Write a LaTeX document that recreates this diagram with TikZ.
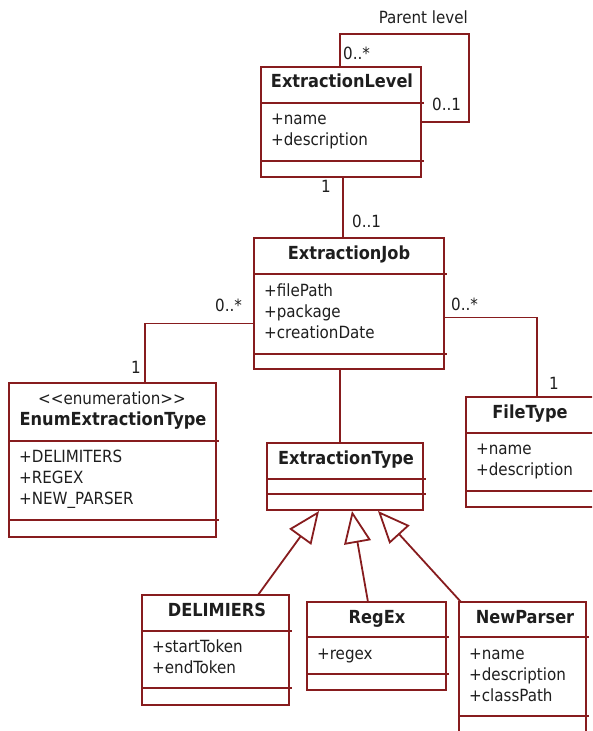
\documentclass[tikz,border=0pt]{standalone}
\usepackage{fontspec}
\setmainfont{DejaVu Sans Condensed}
\usetikzlibrary{arrows.meta}
\definecolor{umlred}{RGB}{135,28,30}
\definecolor{txt}{RGB}{30,30,30}
\tikzset{
  box/.style={draw=umlred, line width=1.8pt, rectangle, inner sep=0pt, outer sep=0pt, anchor=north west},
  divl/.style={draw=umlred, line width=1.8pt},
  conn/.style={draw=umlred, line width=1.8pt},
  gen/.style={draw=umlred, line width=1.8pt, -{Triangle[length=32pt,width=27pt,fill=white]}},
  ttl/.style={font=\bfseries\fontsize{18}{18}\selectfont, text=txt, anchor=base, inner sep=0pt},
  att/.style={font=\fontsize{16.8}{20}\selectfont, text=txt, anchor=base west, inner sep=0pt},
  lbl/.style={font=\fontsize{16.8}{20}\selectfont, text=txt, anchor=base west, inner sep=0pt},
}
\newcommand\umlbox[7]{%
  \node[box, minimum width={#4-#2}, minimum height={#5-#3}] (#1) at (#2,#3) {};
  \draw[divl] (#2,#6) -- ({#4+3},#6);
  \draw[divl] (#2,#7) -- ({#4+3},#7);
}
\begin{document}
\begin{tikzpicture}[x=1pt,y=-1pt]
\useasboundingbox (0,0) rectangle (592,731);
\clip (0,0) rectangle (592,731);
% boxes
\umlbox{el}{261}{67}{421}{177}{103}{161}
\umlbox{ej}{254}{238}{444}{369}{274}{354}
\umlbox{en}{9}{383}{216}{537}{441}{520}
\umlbox{ft}{466}{397}{594}{507}{433}{491}
\umlbox{et}{267}{443}{423}{510}{479}{494}
\umlbox{de}{142}{595}{289}{705}{631}{688}
\umlbox{rx}{307}{602}{446}{690}{637}{674}
\umlbox{np}{459}{602}{586}{745}{637}{716}
% titles
\node[ttl] (elT) at (342,87) {ExtractionLevel};
\node[ttl] (ejT) at (349,259) {ExtractionJob};
\node[font=\fontsize{16.8}{20}\selectfont, text=txt, anchor=base, inner sep=0pt] (enS) at (112,404) {<{}<enumeration>{}>};
\node[ttl] (enT) at (113,425) {EnumExtractionType};
\node[ttl] (ftT) at (530,418) {FileType};
\node[ttl] (etT) at (346,464) {ExtractionType};
\node[ttl] (deT) at (217,616) {DELIMIERS};
\node[ttl] (rxT) at (377,623) {RegEx};
\node[ttl] (npT) at (525,623) {NewParser};
% attributes
\node[att] (elA1) at (271,124) {+name};
\node[att] (elA2) at (271,145) {+description};
\node[att] (ejA1) at (264,296) {+filePath};
\node[att] (ejA2) at (264,317) {+package};
\node[att] (ejA3) at (264,338) {+creationDate};
\node[att] (enA1) at (19,462) {+DELIMITERS};
\node[att] (enA2) at (19,483) {+REGEX};
\node[att] (enA3) at (19,504) {+NEW\_PARSER};
\node[att] (ftA1) at (476,454) {+name};
\node[att] (ftA2) at (476,475) {+description};
\node[att] (deA1) at (152,652) {+startToken};
\node[att] (deA2) at (152,673) {+endToken};
\node[att] (rxA1) at (317,659) {+regex};
\node[att] (npA1) at (469,659) {+name};
\node[att] (npA2) at (469,680) {+description};
\node[att] (npA3) at (469,701) {+classPath};
% connectors
\coordinate (lp) at (469,122);
\draw[conn] ([xshift=-1pt]el.north) -- ++(0,-33) -| (lp) -- (el.east);
\draw[conn] ([xshift=2pt]el.south) -- ([xshift=2pt]el.south |- ej.north);
\draw[conn] ([yshift=-20pt]ej.west) -| ([xshift=32.5pt]en.north);
\draw[conn] ([yshift=-14pt]ej.east) -| ([xshift=7pt]ft.north);
\draw[conn] ([xshift=-5pt]et.north) -- ([xshift=-5pt]et.north |- ej.south);
\draw[gen] ([xshift=42.5pt]de.north) -- ([xshift=-26pt,yshift=-1pt]et.south);
\draw[gen] ([xshift=-8.5pt]rx.north) -- ([xshift=7pt,yshift=-1pt]et.south);
\draw[gen] ([xshift=2pt]np.north west) -- ([xshift=33pt,yshift=-1pt]et.south);
% multiplicities
\node[lbl, anchor=base east] (pl) at (468,23) {Parent level};
\node[lbl] (m1) at (343,59) {0..*};
\node[lbl] (m2) at (432,110) {0..1};
\node[lbl] (m3) at (321,192) {1};
\node[lbl] (m4) at (352,227) {0..1};
\node[lbl] (m5) at (215,311) {0..*};
\node[lbl] (m6) at (131,373) {1};
\node[lbl] (m7) at (451,310) {0..*};
\node[lbl] (m8) at (549,389) {1};
\end{tikzpicture}
\end{document}
